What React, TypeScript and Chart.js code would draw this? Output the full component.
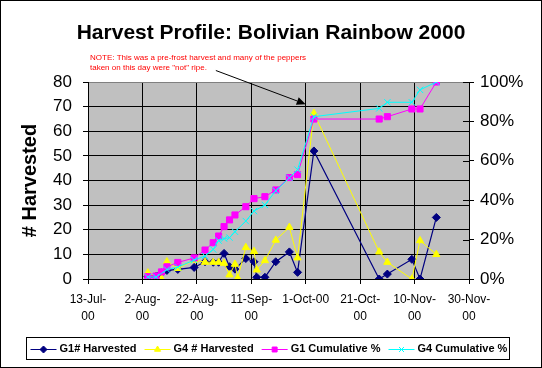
import React, { useEffect, useRef } from 'react';
import { Chart, registerables } from 'chart.js';
import { drawPoint } from 'chart.js/helpers';

Chart.register(...registerables);

const FONT = "'Liberation Sans', Arial, Helvetica, sans-serif";

const TITLE = 'Harvest Profile: Bolivian Rainbow 2000';
const Y_TITLE = '# Harvested';
const NOTE_LINES = [
  'NOTE: This was a pre-frost harvest and many of the peppers',
  'taken on this day were "not" ripe.',
];

// x axis: days since 13-Jul-2000, ticks every 20 days
const tickLabels = ['13-Jul-00', '2-Aug-00', '22-Aug-00', '11-Sep-00', '1-Oct-00', '21-Oct-00', '10-Nov-00', '30-Nov-00'];

const g1Days = [22, 25, 27, 29, 33, 39, 43, 46, 48, 50, 52, 54, 58, 61, 62, 65, 69, 74, 77, 83, 107, 110, 119, 122, 128];
const g1Harvested = [1, 1, 2.5, 3.5, 3.9, 4.7, 7, 6.8, 6.8, 10.4, 5, 4, 8.3, 7, 0.7, 0.7, 7, 11, 2.7, 52, 0, 2, 8, 0, 25];

const g4Days = [22, 27, 29, 33, 39, 43, 46, 48, 50, 52, 54, 55, 58, 61, 62, 65, 69, 74, 77, 83, 107, 110, 119, 122, 128];
const g4Harvested = [2.5, 0, 7, 4.3, 7.7, 6.8, 6.8, 6.8, 6.4, 1.7, 6, 0.4, 12.8, 11.2, 3.7, 7.5, 15.8, 21, 8.6, 67.3, 11, 6.8, 0, 15.6, 10];

const g1CumDays = [22, 25, 27, 29, 33, 39, 43, 46, 48, 50, 52, 54, 58, 61, 65, 69, 74, 77, 83, 107, 110, 119, 122, 128];
const g1CumPct = [1.2, 1.5, 3.6, 6.2, 8.4, 10.7, 14.7, 18.4, 21.8, 26.6, 30, 32.5, 36.7, 40.8, 41.8, 45.2, 51.5, 53, 81.2, 81.2, 82.4, 86.3, 86.3, 100];

const g4CumDays = [22, 25, 29, 33, 39, 43, 46, 48, 50, 52, 54, 58, 61, 65, 69, 74, 77, 83, 107, 110, 119, 122, 128];
const g4CumPct = [1, 1, 4.8, 6, 9.6, 11.7, 15, 19.5, 20.5, 21, 24, 29.4, 34.5, 37.6, 44.8, 51.4, 55.5, 82.4, 86.6, 89.7, 89.7, 96, 100];

const seriesLabels = ['G1# Harvested', 'G4 # Harvested', 'G1 Cumulative %', 'G4 Cumulative %'];

// annotation arrow points at (day, harvested)
const arrowTip = { day: 80, value: 71 };

const toPoints = (xs: number[], ys: number[]) => xs.map((x, i) => ({ x, y: ys[i] }));

const decorPlugin = {
  id: 'decor',
  beforeDraw(chart: any) {
    const { ctx, chartArea: a, width, height } = chart;
    ctx.save();
    ctx.fillStyle = '#FFFFFF';
    ctx.fillRect(0, 0, width, height);
    ctx.fillStyle = '#C0C0C0';
    ctx.fillRect(a.left, a.top, a.right - a.left, a.bottom - a.top);
    ctx.restore();
  },
  afterDraw(chart: any) {
    const { ctx, width, height, chartArea: a, scales } = chart;
    ctx.save();
    // outer border
    ctx.strokeStyle = '#000';
    ctx.lineWidth = 1;
    ctx.strokeRect(0.5, 0.5, width - 1, height - 1);

    // inward tick marks on the right axis (cross style)
    const r = Math.round(a.right);
    ctx.beginPath();
    scales.y1.ticks.forEach((t: any) => {
      const py = Math.round(scales.y1.getPixelForValue(t.value)) + 0.5;
      ctx.moveTo(r - 6, py);
      ctx.lineTo(r, py);
    });
    ctx.stroke();

    // title
    ctx.fillStyle = '#000';
    ctx.font = `bold 21px ${FONT}`;
    ctx.textAlign = 'center';
    ctx.textBaseline = 'middle';
    ctx.fillText(TITLE, width / 2, 33);

    // note
    ctx.font = `8px ${FONT}`;
    ctx.fillStyle = '#FF0000';
    ctx.textAlign = 'left';
    const nx = a.left + 2;
    ctx.fillText(NOTE_LINES[0], nx, 58);
    ctx.fillText(NOTE_LINES[1], nx, 67.5);
    const w2 = ctx.measureText(NOTE_LINES[1]).width;

    // arrow
    const tx = nx + w2 + 9;
    const ty = 70.5;
    const hx = scales.x.getPixelForValue(arrowTip.day);
    const hy = scales.y.getPixelForValue(arrowTip.value);
    const ang = Math.atan2(hy - ty, hx - tx);
    const headLen = 9;
    const headW = 4;
    const bx = hx - Math.cos(ang) * headLen;
    const by = hy - Math.sin(ang) * headLen;
    ctx.strokeStyle = '#000';
    ctx.lineWidth = 1;
    ctx.beginPath();
    ctx.moveTo(tx, ty);
    ctx.lineTo(bx, by);
    ctx.stroke();
    ctx.fillStyle = '#000';
    ctx.beginPath();
    ctx.moveTo(hx, hy);
    ctx.lineTo(bx + Math.sin(ang) * headW, by - Math.cos(ang) * headW);
    ctx.lineTo(bx - Math.sin(ang) * headW, by + Math.cos(ang) * headW);
    ctx.closePath();
    ctx.fill();

    // legend
    ctx.font = `bold 11px ${FONT}`;
    ctx.textBaseline = 'middle';
    ctx.textAlign = 'left';
    const ly = 349;
    const boxLeft = 26.5;
    let x = boxLeft + 4;
    chart.data.datasets.forEach((ds: any) => {
      ctx.strokeStyle = ds.borderColor;
      ctx.fillStyle = ds.backgroundColor;
      ctx.lineWidth = 1;
      ctx.beginPath();
      ctx.moveTo(x, ly + 0.5);
      ctx.lineTo(x + 26, ly + 0.5);
      ctx.stroke();
      drawPoint(ctx, { pointStyle: ds.pointStyle, radius: 3.5, rotation: 0, borderWidth: 1 } as any, x + 13, ly + 0.5);
      ctx.fillStyle = '#000';
      const tw = ctx.measureText(ds.label).width;
      ctx.fillText(ds.label, x + 29, ly);
      x = x + 29 + tw + 8;
    });
    const boxRight = x - 8 + 2;
    ctx.strokeStyle = '#000';
    ctx.lineWidth = 1;
    ctx.strokeRect(boxLeft, 337.5, Math.round(boxRight - boxLeft), 22);
    ctx.restore();
  },
};

export default function App() {
  const ref = useRef<HTMLCanvasElement>(null);
  useEffect(() => {
    document.body.style.margin = '0';
    const canvas = ref.current;
    if (!canvas) return;
    Chart.defaults.font.family = FONT;
    Chart.defaults.color = '#000';
    const chart = new Chart(canvas, {
      type: 'line',
      data: {
        datasets: [
          {
            label: seriesLabels[0],
            data: toPoints(g1Days, g1Harvested),
            yAxisID: 'y',
            borderColor: '#000080',
            backgroundColor: '#000080',
            pointStyle: 'rectRot',
            pointRadius: 4,
            pointBorderWidth: 1,
            borderWidth: 1.2,
            tension: 0,
            order: 4,
          },
          {
            label: seriesLabels[1],
            data: toPoints(g4Days, g4Harvested),
            yAxisID: 'y',
            borderColor: '#FFFF00',
            backgroundColor: '#FFFF00',
            pointStyle: 'triangle',
            pointRadius: 4.2,
            pointBorderWidth: 1,
            borderWidth: 1,
            tension: 0,
            order: 3,
          },
          {
            label: seriesLabels[2],
            data: toPoints(g1CumDays, g1CumPct),
            yAxisID: 'y1',
            borderColor: '#FF00FF',
            backgroundColor: '#FF00FF',
            pointStyle: 'rect',
            pointRadius: 4.3,
            pointBorderWidth: 1,
            borderWidth: 1,
            tension: 0,
            order: 2,
          },
          {
            label: seriesLabels[3],
            data: toPoints(g4CumDays, g4CumPct),
            yAxisID: 'y1',
            borderColor: '#00FFFF',
            backgroundColor: '#00FFFF',
            pointStyle: 'crossRot',
            pointRadius: 4.5,
            pointBorderWidth: 1,
            borderWidth: 1,
            tension: 0,
            order: 1,
          },
        ],
      } as any,
      options: {
        responsive: false,
        animation: false,
        devicePixelRatio: 1,
        layout: { padding: { top: 82, left: 0, right: 0, bottom: 0 } },
        plugins: {
          legend: { display: false },
          tooltip: { enabled: false },
          title: { display: false },
        },
        scales: {
          x: {
            type: 'linear',
            position: 'bottom',
            min: 0,
            max: 140,
            ticks: {
              stepSize: 20,
              autoSkip: false,
              maxRotation: 0,
              padding: 7,
              color: '#000',
              font: { size: 12, lineHeight: 1.42 },
              callback: (v: any) => {
                const s = tickLabels[Math.round(Number(v) / 20)] ?? '';
                if (s.startsWith('1-')) return s;
                const k = s.lastIndexOf('-');
                return [s.slice(0, k + 1), s.slice(k + 1)];
              },
            },
            grid: { color: '#000', tickColor: '#000', tickLength: 5, lineWidth: 1 },
            border: { color: '#000' },
            afterFit: (s: any) => {
              s.height = 89;
            },
          },
          y: {
            type: 'linear',
            position: 'left',
            min: 0,
            max: 80,
            ticks: { stepSize: 10, padding: 11, color: '#000', font: { size: 17 } },
            grid: {
              color: (c: any) => (c.tick && c.tick.value === 80 ? '#808080' : '#000'),
              tickColor: '#000',
              tickLength: 5,
              lineWidth: 1,
            },
            border: { color: '#000' },
            title: {
              display: true,
              text: Y_TITLE,
              color: '#000',
              font: { size: 20, weight: 'bold', lineHeight: 1.2 },
              padding: { top: 18, bottom: 0 },
            },
            afterFit: (s: any) => {
              s.width = 88;
            },
          },
          y1: {
            type: 'linear',
            position: 'right',
            min: 0,
            max: 100,
            ticks: {
              stepSize: 20,
              padding: 6,
              color: '#000',
              font: { size: 17 },
              callback: (v: any) => `${v}%`,
            },
            grid: { drawOnChartArea: false, tickColor: '#000', tickLength: 5 },
            border: { color: '#000' },
            afterFit: (s: any) => {
              s.width = 73;
            },
          },
        },
      } as any,
      plugins: [decorPlugin],
    });
    return () => chart.destroy();
  }, []);
  return <canvas ref={ref} width={542} height={368} style={{ display: 'block', width: 542, height: 368 }} />;
}
